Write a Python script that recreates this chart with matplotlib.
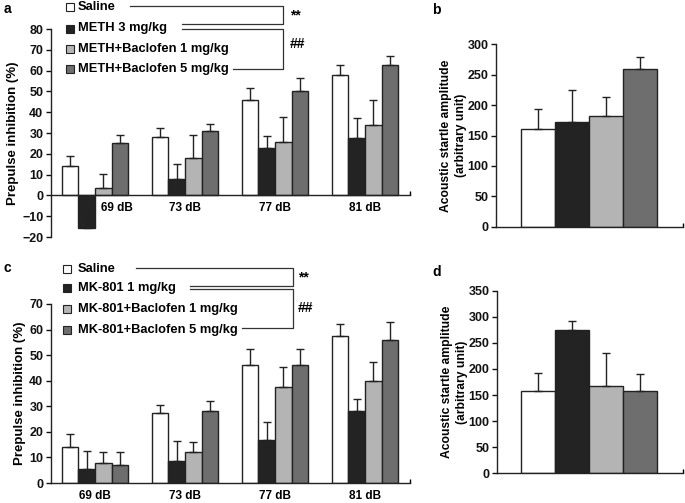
import matplotlib.pyplot as plt
from matplotlib.lines import Line2D
from matplotlib.patches import Rectangle
from matplotlib.transforms import ScaledTranslation
import numpy as np

plt.rcParams['font.family'] = ['Liberation Sans', 'DejaVu Sans']
plt.rcParams['font.weight'] = 'bold'

W, H = 685, 503

# ---- data ----
db_labels = ['69 dB', '73 dB', '77 dB', '81 dB']
colors = ['#ffffff', '#232323', '#b4b4b4', '#6e6e6e']

# panel a: METH
meth_names = ['Saline', 'METH 3 mg/kg', 'METH+Baclofen 1 mg/kg', 'METH+Baclofen 5 mg/kg']
meth_ppi = [[14, 28, 46, 58], [-15.5, 8, 23, 27.5], [3.5, 18, 25.5, 34], [25, 31, 50, 62.5]]
meth_ppi_sem = [[5, 4.5, 5.5, 4.5], [6, 7, 5.5, 9.5], [7, 11, 12, 12], [4, 3.5, 6.5, 4.5]]

# panel b: METH startle
meth_startle = [160, 173, 182, 259]
meth_startle_sem = [34, 52, 31, 20]

# panel c: MK-801
mk_names = ['Saline', 'MK-801 1 mg/kg', 'MK-801+Baclofen 1 mg/kg', 'MK-801+Baclofen 5 mg/kg']
mk_ppi = [[14, 27.5, 46, 57.5], [5.5, 8.5, 17, 28], [8, 12, 37.5, 40], [7, 28, 46, 56]]
mk_ppi_sem = [[5, 3, 6.5, 4.5], [7, 8, 7, 5], [4, 4, 8, 7.5], [5, 4, 6.5, 7]]

# panel d: MK-801 startle
mk_startle = [158, 275, 168, 158]
mk_startle_sem = [35, 17, 62, 32]


def fx(x):
    return x / W


def fy(y):
    return 1 - y / H


fig = plt.figure(figsize=(W / 100, H / 100), dpi=100)


def style_axis(ax, xpad=7):
    for s in ['top', 'right']:
        ax.spines[s].set_visible(False)
    for s in ['left', 'bottom']:
        ax.spines[s].set_linewidth(1.0)
        ax.spines[s].set_color('#222222')
    ax.tick_params(axis='y', direction='out', length=3.5, width=1, pad=2,
                   labelsize=9, colors='#111111')
    ax.tick_params(axis='x', length=0, labelsize=8.5, pad=xpad)
    ax.tick_params(axis='x', which='minor', direction='in', length=3, width=1)
    for lbl in ax.get_yticklabels():
        lbl.set_fontweight('bold')


def ppi_panel(rect, means, sems, ylim, yticks, xpad):
    ax = fig.add_axes(rect)
    w = 0.185
    x = np.arange(len(db_labels))
    for i in range(4):
        xi = x + (i - 1.5) * w
        ax.bar(xi, means[i], width=w, color=colors[i], edgecolor='#222222',
               linewidth=1.0, zorder=2)
        ax.errorbar(xi, means[i], yerr=[np.zeros(4), sems[i]], fmt='none',
                    ecolor='#222222', elinewidth=1.0, capsize=3, capthick=1.0, zorder=3)
    ax.set_xlim(-0.49, 3.5)
    ax.set_ylim(*ylim)
    ax.set_yticks(yticks)
    ax.set_xticks(x)
    ax.set_xticklabels(db_labels, fontweight='bold', fontsize=8.5)
    ax.set_xticks([3.5], minor=True)
    ax.set_ylabel('Prepulse inhibition (%)', fontsize=9.5, fontweight='bold', labelpad=2)
    style_axis(ax, xpad)
    return ax


def startle_panel(rect, means, sems, ylim, yticks):
    ax = fig.add_axes(rect)
    x = np.arange(4)
    ax.bar(x, means, width=1.0, color=colors, edgecolor='#222222', linewidth=1.0, zorder=2)
    ax.errorbar(x, means, yerr=[np.zeros(4), sems], fmt='none', ecolor='#222222',
                elinewidth=1.0, capsize=3, capthick=1.0, zorder=3)
    ax.set_xlim(-1.22, 4.25)
    ax.set_ylim(*ylim)
    ax.set_yticks(yticks)
    ax.set_xticks([])
    ax.set_xticks([4.25], minor=True)
    ax.set_ylabel('Acoustic startle amplitude\n(arbitrary unit)', fontsize=8.7,
                  fontweight='bold', labelpad=0, linespacing=1.35)
    style_axis(ax)
    return ax


def legend_block(names, rows, text_x, sq_x, lines, stars):
    for name, c, y in zip(names, colors, rows):
        fig.add_artist(Rectangle((fx(sq_x), fy(y + 4)), fx(8), 8 / H,
                                 facecolor=c, edgecolor='#222222', linewidth=0.8,
                                 transform=fig.transFigure))
        fig.text(fx(text_x), fy(y), name, fontsize=9.3, fontweight='bold',
                 va='center', ha='left')
    for pts in lines:
        xs = [fx(p[0]) for p in pts]
        ys = [fy(p[1]) for p in pts]
        fig.add_artist(Line2D(xs, ys, color='#333333', linewidth=0.9,
                              transform=fig.transFigure))
    for txt, (x, y) in stars:
        fig.text(fx(x), fy(y), txt, fontsize=10, fontweight='bold', va='center', ha='left')


# panel a
ax_a = ppi_panel([fx(51), fy(237), fx(410 - 51), (237 - 29) / H],
                 meth_ppi, meth_ppi_sem, (-20, 80), range(-20, 81, 10), 5)
ax_a.spines['bottom'].set_position(('data', 0))
lbl = ax_a.get_xticklabels()[0]
lbl.set_transform(lbl.get_transform() + ScaledTranslation(0.22, 0, fig.dpi_scale_trans))
lbl.set_zorder(5)

# panel c
ppi_panel([fx(51), fy(483), fx(410 - 51), (483 - 304) / H],
          mk_ppi, mk_ppi_sem, (0, 70), range(0, 71, 10), 5)

# panel b
startle_panel([fx(496), fy(226.7), fx(683 - 496), (226.7 - 44.4) / H],
              meth_startle, meth_startle_sem, (0, 300), range(0, 301, 50))

# panel d
startle_panel([fx(497), fy(473.3), fx(683 - 497), (473.3 - 290.7) / H],
              mk_startle, mk_startle_sem, (0, 350), range(0, 351, 50))

legend_block(meth_names, [7, 28.5, 49.3, 69.3], 78, 66,
             [[(130, 6), (283, 6), (283, 24), (182, 24)],
              [(182, 29.3), (283, 29.3), (283, 69), (233, 69)]],
             [('**', (290, 15)), ('##', (290, 44))])

legend_block(mk_names, [269, 288.3, 309.3, 330], 78, 63,
             [[(136, 268.3), (293, 268.3), (293, 286), (190, 286)],
              [(190, 289.3), (293, 289.3), (293, 327.7), (242, 327.7)]],
             [('**', (298, 277)), ('##', (298, 308))])

for letter, x, y in [('a', 4, 9), ('b', 432, 10), ('c', 4, 268), ('d', 432, 272)]:
    fig.text(fx(x), fy(y), letter, fontsize=10, fontweight='bold', va='center', ha='left')

fig.savefig('out.png', dpi=100)
